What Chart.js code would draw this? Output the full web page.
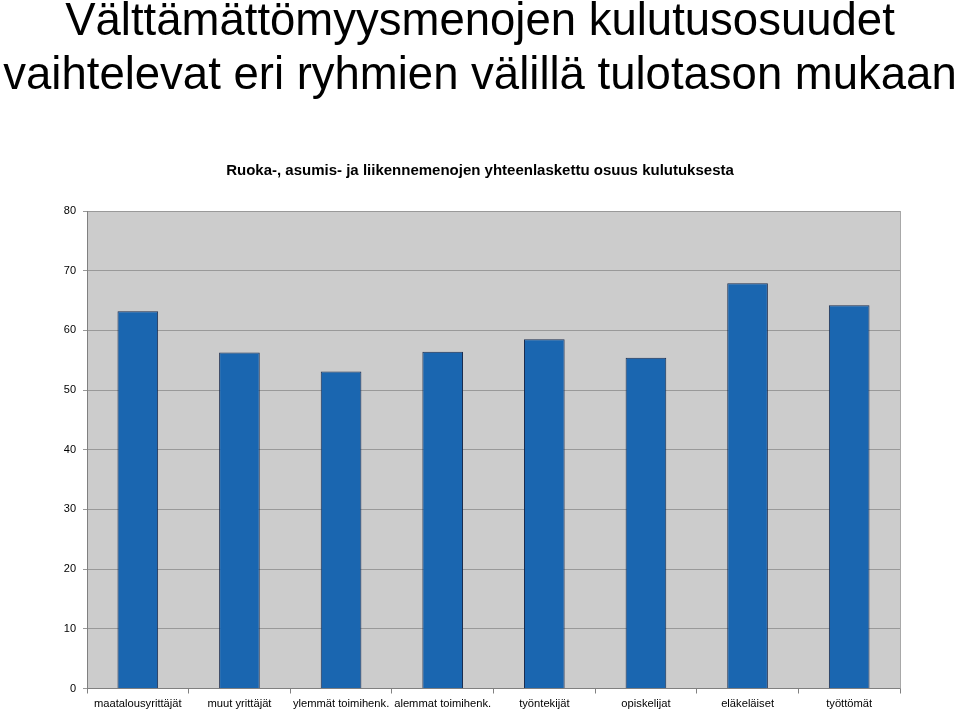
<!DOCTYPE html>
<html><head><meta charset="utf-8">
<script src="https://cdn.jsdelivr.net/npm/chart.js@4/dist/chart.umd.min.js"></script>
<style>
html,body{margin:0;padding:0;background:#fff;}
#wrap{position:relative;width:960px;height:712px;overflow:hidden;}
#heading{position:absolute;left:0;top:-7.5px;width:960px;text-align:center;font-family:"Liberation Sans",Arial,sans-serif;font-size:45.5px;line-height:54px;color:#000;z-index:2;white-space:nowrap;}
canvas{position:absolute;left:0;top:0;}
</style></head>
<body>
<div id="wrap">
<div id="heading">Välttämättömyysmenojen kulutusosuudet<br>vaihtelevat eri ryhmien välillä tulotason mukaan</div>
<canvas id="c" width="960" height="712"></canvas>
</div>
<script>
const categories = ["maatalousyrittäjät","muut yrittäjät","ylemmät toimihenk.","alemmat toimihenk.","työntekijät","opiskelijat","eläkeläiset","työttömät"];
const shares = [63.2, 56.3, 53.1, 56.4, 58.5, 55.4, 67.9, 64.2];
const yTicks = [0,10,20,30,40,50,60,70,80];
const chartTitle = "Ruoka-, asumis- ja liikennemenojen yhteenlaskettu osuus kulutuksesta";

const plotBg = {
  id:'plotBg',
  beforeDraw(chart){
    const {ctx, chartArea:a} = chart;
    ctx.save();
    ctx.fillStyle = '#cccccc';
    ctx.fillRect(a.left, a.top, a.right-a.left, a.bottom-a.top);
    ctx.restore();
  },
  afterDatasetsDraw(chart){
    const {ctx, chartArea:a} = chart;
    ctx.save();
    ctx.strokeStyle = '#a8a8a8';
    ctx.lineWidth = 1;
    ctx.beginPath();
    ctx.moveTo(a.right+0.5, a.top);
    ctx.lineTo(a.right+0.5, a.bottom);
    ctx.stroke();
    ctx.restore();
  }
};

Chart.defaults.font.family = '"Liberation Sans", Arial, sans-serif';
Chart.defaults.color = '#000';

new Chart(document.getElementById('c'), {
  type:'bar',
  data:{
    labels: categories,
    datasets:[{
      data: shares,
      backgroundColor:'#1a66b0',
      borderColor:'#1b2d4f',
      borderWidth:1,
      categoryPercentage:1,
      barPercentage:0.4
    }]
  },
  options:{
    responsive:false,
    animation:false,
    layout:{padding:{left:60,right:60,top:0,bottom:0}},
    plugins:{
      legend:{display:false},
      tooltip:{enabled:false},
      title:{
        display:true,
        text: chartTitle,
        font:{size:15,weight:'bold'},
        color:'#000',
        padding:{top:162,bottom:31}
      }
    },
    scales:{
      x:{
        offset:true,
        grid:{display:true,drawOnChartArea:false,drawTicks:true,tickLength:5,offset:true,color:'#808080'},
        border:{display:true,color:'#808080'},
        ticks:{font:{size:11.2},padding:4,maxRotation:0,autoSkip:false,color:'#000'},
        afterFit(s){ s.height = 23.5; }
      },
      y:{
        min:0,max:80,
        afterBuildTicks(s){ s.ticks = yTicks.map(v=>({value:v})); },
        grid:{color:'#999999',tickLength:4,drawTicks:true},
        border:{display:true,color:'#808080'},
        ticks:{font:{size:11},padding:7,color:'#000'},
        afterFit(s){ s.width = 27; }
      }
    }
  },
  plugins:[plotBg]
});
</script>
</body></html>
